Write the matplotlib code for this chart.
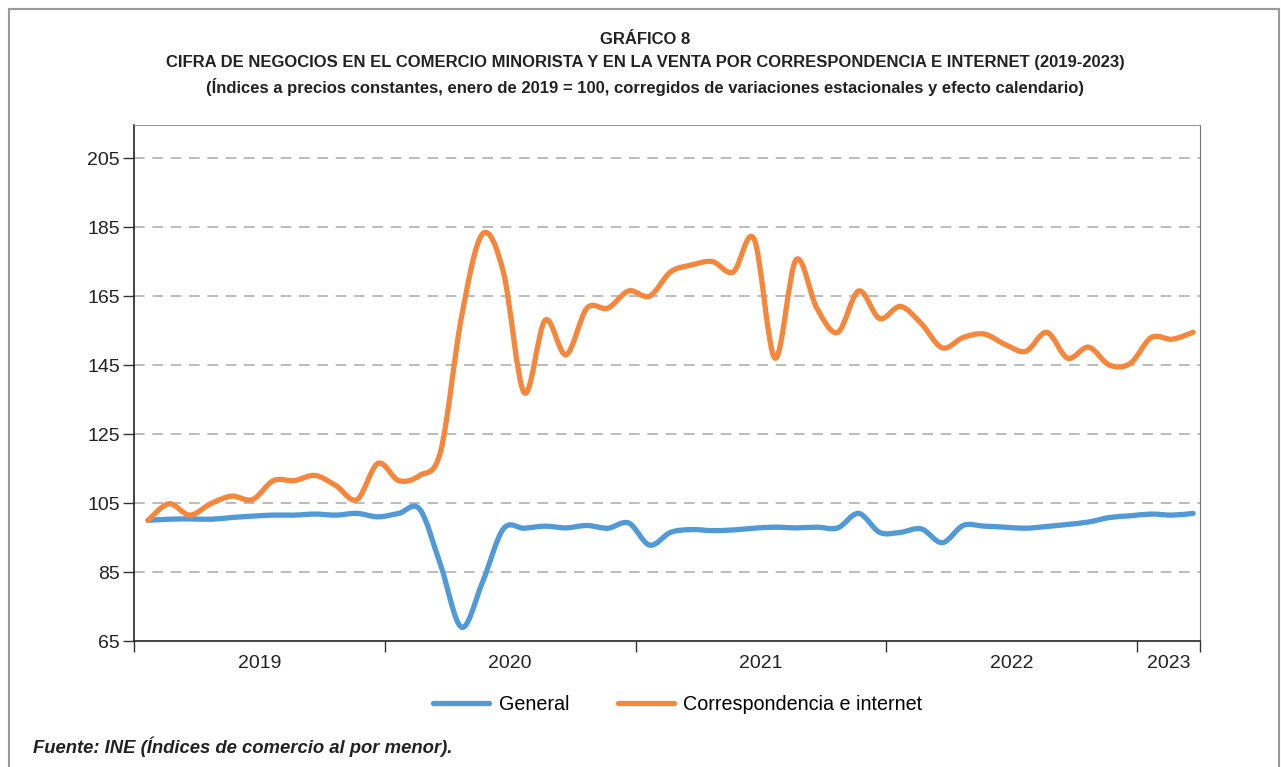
import matplotlib.pyplot as plt
import numpy as np
from matplotlib.path import Path
from matplotlib.patches import PathPatch, Rectangle
from matplotlib.lines import Line2D

plt.rcParams['font.family'] = ['Liberation Sans', 'DejaVu Sans']

# monthly index values, Jan 2019 .. Mar 2023
general = [100, 100.3, 100.4, 100.3, 100.8, 101.2, 101.5, 101.5, 101.8, 101.5, 102, 101,
           102, 103.2, 87, 69, 82, 97.5, 97.7, 98.3, 97.8, 98.5, 97.7, 99.2,
           92.8, 96.5, 97.3, 97, 97.2, 97.7, 98, 97.8, 98, 97.8, 102, 96.5,
           96.5, 97.5, 93.5, 98.5, 98.3, 98, 97.7, 98.2, 98.8, 99.5, 100.8, 101.3,
           101.8, 101.5, 102]
correspondencia = [100, 104.8, 101.5, 104.8, 107, 106, 111.5, 111.5, 113, 110, 106, 116.5,
                   111.5, 113, 120, 159, 183, 172, 137, 158, 148, 161.5, 161.5, 166.5,
                   165, 172, 174, 175, 172, 181.5, 147, 175.5, 161.5, 154.5, 166.5, 158.5,
                   162, 157, 150, 153, 154, 151, 149, 154.5, 147, 150.2, 145, 145.5,
                   153, 152.5, 154.5]
years = ['2019', '2020', '2021', '2022', '2023']
y_ticks = [65, 85, 105, 125, 145, 165, 185, 205]

blue = '#519ad5'
orange = '#f5873c'


def smooth_path(xs, ys):
    # Catmull-Rom style bezier through the points (like a spreadsheet "smoothed line")
    pts = np.column_stack([xs, ys]).astype(float)
    n = len(pts)
    verts = [pts[0]]
    codes = [Path.MOVETO]
    for i in range(n - 1):
        p0 = pts[i - 1] if i > 0 else pts[i]
        p1 = pts[i]
        p2 = pts[i + 1]
        p3 = pts[i + 2] if i + 2 < n else pts[i + 1]
        c1 = p1 + (p2 - p0) / 6.0
        c2 = p2 - (p3 - p1) / 6.0
        verts += [c1, c2, p2]
        codes += [Path.CURVE4] * 3
    return Path(verts, codes)


fig = plt.figure(figsize=(12.81, 7.67), dpi=100)
ax = fig.add_axes([134 / 1281, 1 - 641 / 767, (1200 - 134) / 1281, (641 - 125) / 767])

x = np.arange(len(general))
for series, col in [(general, blue), (correspondencia, orange)]:
    patch = PathPatch(smooth_path(x, series), facecolor='none', edgecolor=col,
                      lw=3.8, capstyle='round', joinstyle='round', zorder=3)
    ax.add_patch(patch)

x0 = -0.67
ax.set_xlim(x0, x0 + 51)
ax.set_ylim(65, 214.6)

ax.set_yticks(y_ticks)
ax.set_yticklabels([str(v) for v in y_ticks], fontsize=14, color='#222222')
for v in y_ticks[1:]:
    ax.axhline(v, color='#aaaaaa', lw=1.1, dashes=(7, 5), zorder=1)

bounds = [x0 + 12 * k for k in range(5)] + [x0 + 51]
ax.set_xticks(bounds)
ax.set_xticklabels([])
centers = [(bounds[k] + bounds[k + 1]) / 2 for k in range(5)]
ax.set_xticks(centers, minor=True)
ax.set_xticklabels(years, minor=True, fontsize=14, color='#222222')
ax.tick_params(axis='x', which='minor', length=0, pad=10)
ax.tick_params(axis='x', which='major', length=8, width=1, color='#333333', direction='out')
ax.tick_params(axis='y', length=8, width=1, color='#333333', direction='out', pad=2)

for s in ['left', 'bottom']:
    ax.spines[s].set_color('#222222')
    ax.spines[s].set_linewidth(1.2)
ax.spines['top'].set_color('#999999')
ax.spines['right'].set_color('#777777')

# titles
fig.text(645 / 1281, 1 - 40 / 767, 'GRÁFICO 8', ha='center', va='center',
         fontsize=12, fontweight='bold', color='#222222')
fig.text(645 / 1281, 1 - 62 / 767,
         'CIFRA DE NEGOCIOS EN EL COMERCIO MINORISTA Y EN LA VENTA POR CORRESPONDENCIA E INTERNET (2019-2023)',
         ha='center', va='center', fontsize=12, fontweight='bold', color='#222222')
fig.text(645 / 1281, 1 - 87 / 767,
         '(Índices a precios constantes, enero de 2019 = 100, corregidos de variaciones estacionales y efecto calendario)',
         ha='center', va='center', fontsize=12, fontweight='bold', color='#222222')

handles = [Line2D([], [], color=blue, lw=3.8, solid_capstyle='round'),
           Line2D([], [], color=orange, lw=3.8, solid_capstyle='round')]
fig.legend(handles, ['General', 'Correspondencia e internet'], loc='center',
           bbox_to_anchor=(678 / 1281, 1 - 704 / 767), ncol=2, frameon=False,
           fontsize=14.2, handlelength=2.8, handletextpad=0.5, columnspacing=2.5)

fig.text(33 / 1281, 1 - 747 / 767, 'Fuente: INE (Índices de comercio al por menor).',
         ha='left', va='center', fontsize=13.3, fontweight='bold', fontstyle='italic',
         color='#222222')

fig.patches.append(Rectangle((9 / 1281, -0.05), (1279 - 9) / 1281, 1.05 - 9 / 767,
                             transform=fig.transFigure, fill=False,
                             edgecolor='#999999', lw=1.5))

fig.savefig('out.png', dpi=100)
